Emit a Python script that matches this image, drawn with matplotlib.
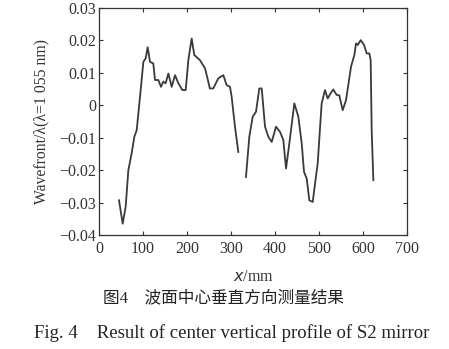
import numpy as np
import matplotlib.pyplot as plt

plt.rcParams['font.family'] = ['Liberation Serif', 'Noto Sans CJK SC', 'DejaVu Sans']

# 第一段曲线 (x/mm, wavefront)
x1 = [45.5, 53.8, 60.6, 66.7, 74.2, 80.3, 85.6, 93.2, 100.8, 106.1, 110.6, 115.9,
      123.4, 127.3, 134.8, 140.9, 146.1, 151.4, 157.6, 165.2, 172.7, 180.3, 189.4,
      197.0, 203.0, 210.6, 216.6, 229.5, 241.0, 252.0, 259.8, 271.0, 282.5, 290.2,
      297.7, 301.5, 309.0, 316.6]
y1 = [-0.0293, -0.0365, -0.0313, -0.0200, -0.0148, -0.0097, -0.0077, 0.0026, 0.0134,
      0.0145, 0.0179, 0.0134, 0.0129, 0.0078, 0.0078, 0.0057, 0.0073, 0.0068, 0.0098,
      0.0057, 0.0093, 0.0068, 0.0047, 0.0047, 0.0139, 0.0206, 0.0155, 0.0139, 0.0114,
      0.0052, 0.0052, 0.0083, 0.0093, 0.0062, 0.0057, 0.0026, -0.0066, -0.0144]

# 第二段曲线
x2 = [334.0, 341.6, 349.3, 356.8, 364.3, 369.8, 377.3, 384.8, 392.5, 402.3, 411.4,
      418.9, 425.0, 432.5, 443.9, 453.0, 460.7, 465.9, 472.0, 478.0, 485.7, 491.0,
      497.0, 506.0, 513.6, 519.7, 526.0, 532.5, 540.0, 546.0, 553.8, 561.4, 572.7,
      580.3, 584.1, 588.0, 594.7, 602.3, 608.4, 614.4, 617.4, 619.7, 623.5]
y2 = [-0.0221, -0.0097, -0.0035, -0.0020, 0.0052, 0.0052, -0.0066, -0.0097, -0.0113,
      -0.0066, -0.0082, -0.0107, -0.0195, -0.0118, 0.0006, -0.0035, -0.0118, -0.0205,
      -0.0226, -0.0293, -0.0298, -0.0241, -0.0179, 0.0006, 0.0047, 0.0021, 0.0036,
      0.0049, 0.0032, 0.0031, -0.0015, 0.0016, 0.0119, 0.0155, 0.0191, 0.0186, 0.0201,
      0.0186, 0.0160, 0.0160, 0.0139, -0.0077, -0.0231]

xticks = [0, 100, 200, 300, 400, 500, 600, 700]
yticks = [-0.04, -0.03, -0.02, -0.01, 0, 0.01, 0.02, 0.03]
ylabels = ['\u22120.04', '\u22120.03', '\u22120.02', '\u22120.01', '0', '0.01', '0.02', '0.03']

fig = plt.figure(figsize=(4.49, 3.49), dpi=100)
ax = fig.add_axes([0.2205, 0.3266, 0.686, 0.6504])

ax.plot(x1, y1, color='#3a3a3a', lw=1.3)
ax.plot(x2, y2, color='#3a3a3a', lw=1.3)

ax.set_xlim(0, 700)
ax.set_ylim(-0.04, 0.03)
ax.set_xticks(xticks)
ax.set_yticks(yticks)
ax.set_yticklabels(ylabels)
ax.tick_params(direction='in', top=True, right=True, length=3, width=0.8,
               labelsize=11.5, colors='#333333')
ax.tick_params(axis='x', pad=4)
ax.tick_params(axis='y', pad=2)
for s in ax.spines.values():
    s.set_color('#333333')
    s.set_linewidth(0.9)

ax.set_xlabel(r'$\it{x}$/mm', fontsize=11.5, color='#333333', labelpad=9)
ax.set_ylabel('Wavefront/\u03bb(\u03bb=1 055 nm)', fontsize=11.3, color='#333333', labelpad=7)

fig.text(0.229, 0.146, '图4    波面中心垂直方向测量结果', fontsize=12, ha='left', va='center',
         color='#222222')
fig.text(0.075, 0.045, 'Fig. 4    Result of center vertical profile of S2 mirror', fontsize=13.5,
         ha='left', va='center', color='#222222')

fig.savefig('out.png', dpi=100)
